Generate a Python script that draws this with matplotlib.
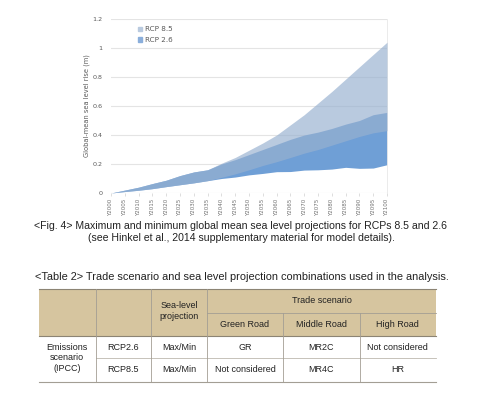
import matplotlib.pyplot as plt
from matplotlib.patches import Patch, Rectangle

# sea level projections (m), every 5 years
years = list(range(2000, 2101, 5))
rcp85_max = [0.0, 0.02, 0.04, 0.065, 0.088, 0.12, 0.145, 0.16, 0.205, 0.245, 0.295,
             0.345, 0.40, 0.47, 0.54, 0.62, 0.70, 0.785, 0.87, 0.955, 1.04]
rcp85_min = [0.0, 0.01, 0.019, 0.03, 0.044, 0.057, 0.07, 0.085, 0.108, 0.132, 0.16,
             0.19, 0.216, 0.245, 0.275, 0.30, 0.33, 0.36, 0.39, 0.415, 0.43]
rcp26_max = [0.0, 0.02, 0.04, 0.065, 0.088, 0.12, 0.145, 0.16, 0.20, 0.23, 0.265,
             0.30, 0.335, 0.37, 0.40, 0.42, 0.445, 0.475, 0.50, 0.54, 0.556]
rcp26_min = [0.0, 0.01, 0.019, 0.03, 0.044, 0.057, 0.07, 0.085, 0.10, 0.11, 0.125,
             0.135, 0.147, 0.148, 0.158, 0.16, 0.165, 0.177, 0.17, 0.172, 0.195]
year_labels = ["Y%d" % y for y in years]
y_ticks = [0, 0.2, 0.4, 0.6, 0.8, 1.0, 1.2]
y_tick_labels = ["0", "0.2", "0.4", "0.6", "0.8", "1", "1.2"]

fig_caption = ("<Fig. 4> Maximum and minimum global mean sea level projections for RCPs 8.5 and 2.6\n"
               "(see Hinkel et al., 2014 supplementary material for model details).")
table_caption = "<Table 2> Trade scenario and sea level projection combinations used in the analysis."
sub_headers = ["Green Road", "Middle Road", "High Road"]
row_rcp = ["RCP2.6", "RCP8.5"]
row_proj = ["Max/Min", "Max/Min"]
row_trade = [["GR", "MR2C", "Not considered"],
             ["Not considered", "MR4C", "HR"]]

W, H = 482, 393
fig = plt.figure(figsize=(W / 100, H / 100), dpi=100)
ax = fig.add_axes([111 / W, 1 - 193 / H, 276 / W, 174 / H])

ax.fill_between(years, rcp26_min, rcp26_max, color="#6f9fd6", lw=0, zorder=2)
ax.fill_between(years, rcp85_min, rcp85_max, color="#98b1d0", alpha=0.68, lw=0, zorder=3)

ax.set_xlim(2000, 2100)
ax.set_ylim(0, 1.2)
ax.set_xticks(years)
ax.set_xticklabels(year_labels, rotation=90, fontsize=4, color="#707070")
ax.set_yticks(y_ticks)
ax.set_yticklabels(y_tick_labels, fontsize=4.6, color="#595959")
ax.tick_params(axis="x", length=2, width=0.5, color="#d0d0d0", pad=2)
ax.tick_params(axis="y", length=0, pad=6)
ax.grid(axis="y", color="#e4e4e4", lw=0.8, zorder=0)
for s in ["top", "left", "bottom"]:
    ax.spines[s].set_visible(False)
ax.spines["right"].set_color("#e8e8e8")
ax.spines["right"].set_linewidth(0.6)
ax.set_ylabel("Global-mean sea level rise (m)", fontsize=4.8, color="#595959", labelpad=2)

handles = [Patch(color="#b9cadf", label="RCP 8.5"), Patch(color="#8aaedb", label="RCP 2.6")]
fig.legend(handles=handles, loc="upper left", bbox_to_anchor=(131 / W, 1 - 20 / H),
           frameon=False, fontsize=5.2, handlelength=0.6, handleheight=0.6,
           handletextpad=0.4, labelspacing=0.6, labelcolor="#595959")

# caption and table drawn in pixel coordinates
ov = fig.add_axes([0, 0, 1, 1])
ov.set_xlim(0, W)
ov.set_ylim(H, 0)
ov.axis("off")

ov.text(241, 232, fig_caption, ha="center", va="center", fontsize=7.55,
        family="Liberation Sans", linespacing=1.35, color="#222222")
ov.text(242, 277, table_caption, ha="center", va="center", fontsize=7.9,
        family="Liberation Sans", color="#222222")

cols = [39, 95.5, 151, 207, 283, 359.5, 436]
top, mid, hdr, rdiv, bot = 289, 312.5, 336, 358, 381.5
tan = "#d6c59f"
line = "#a39e94"
ov.add_patch(Rectangle((cols[0], top), cols[-1] - cols[0], hdr - top, color=tan, lw=0))
ov.plot([cols[0], cols[-1]], [top, top], color="#8c8474", lw=0.8)
ov.plot([cols[0], cols[-1]], [hdr, hdr], color="#8c8474", lw=0.8)
ov.plot([cols[0], cols[-1]], [bot, bot], color=line, lw=0.8)
ov.plot([cols[1], cols[-1]], [rdiv, rdiv], color="#bdb8ae", lw=0.6)
ov.plot([cols[3], cols[-1]], [mid, mid], color=line, lw=0.6)
for x in cols[1:4]:
    ov.plot([x, x], [top, bot], color=line, lw=0.6)
for x in cols[4:6]:
    ov.plot([x, x], [mid, bot], color=line, lw=0.6)

tk = dict(ha="center", va="center", fontsize=6.5, family="Liberation Sans", color="#222222")
ov.text((cols[2] + cols[3]) / 2, 311, "Sea-level\nprojection", linespacing=1.15, **tk)
ov.text((cols[3] + cols[-1]) / 2, 300.5, "Trade scenario", **tk)
for i, name in enumerate(sub_headers):
    ov.text((cols[3 + i] + cols[4 + i]) / 2, 324.5, name, **tk)
ov.text((cols[0] + cols[1]) / 2, 358, "Emissions\nscenario\n(IPCC)", linespacing=1.15, **tk)
for r in range(2):
    yc = 347 if r == 0 else 369.5
    ov.text((cols[1] + cols[2]) / 2, yc, row_rcp[r], **tk)
    ov.text((cols[2] + cols[3]) / 2, yc, row_proj[r], **tk)
    for j in range(3):
        ov.text((cols[3 + j] + cols[4 + j]) / 2, yc, row_trade[r][j], **tk)

fig.savefig("out.png", dpi=100)
